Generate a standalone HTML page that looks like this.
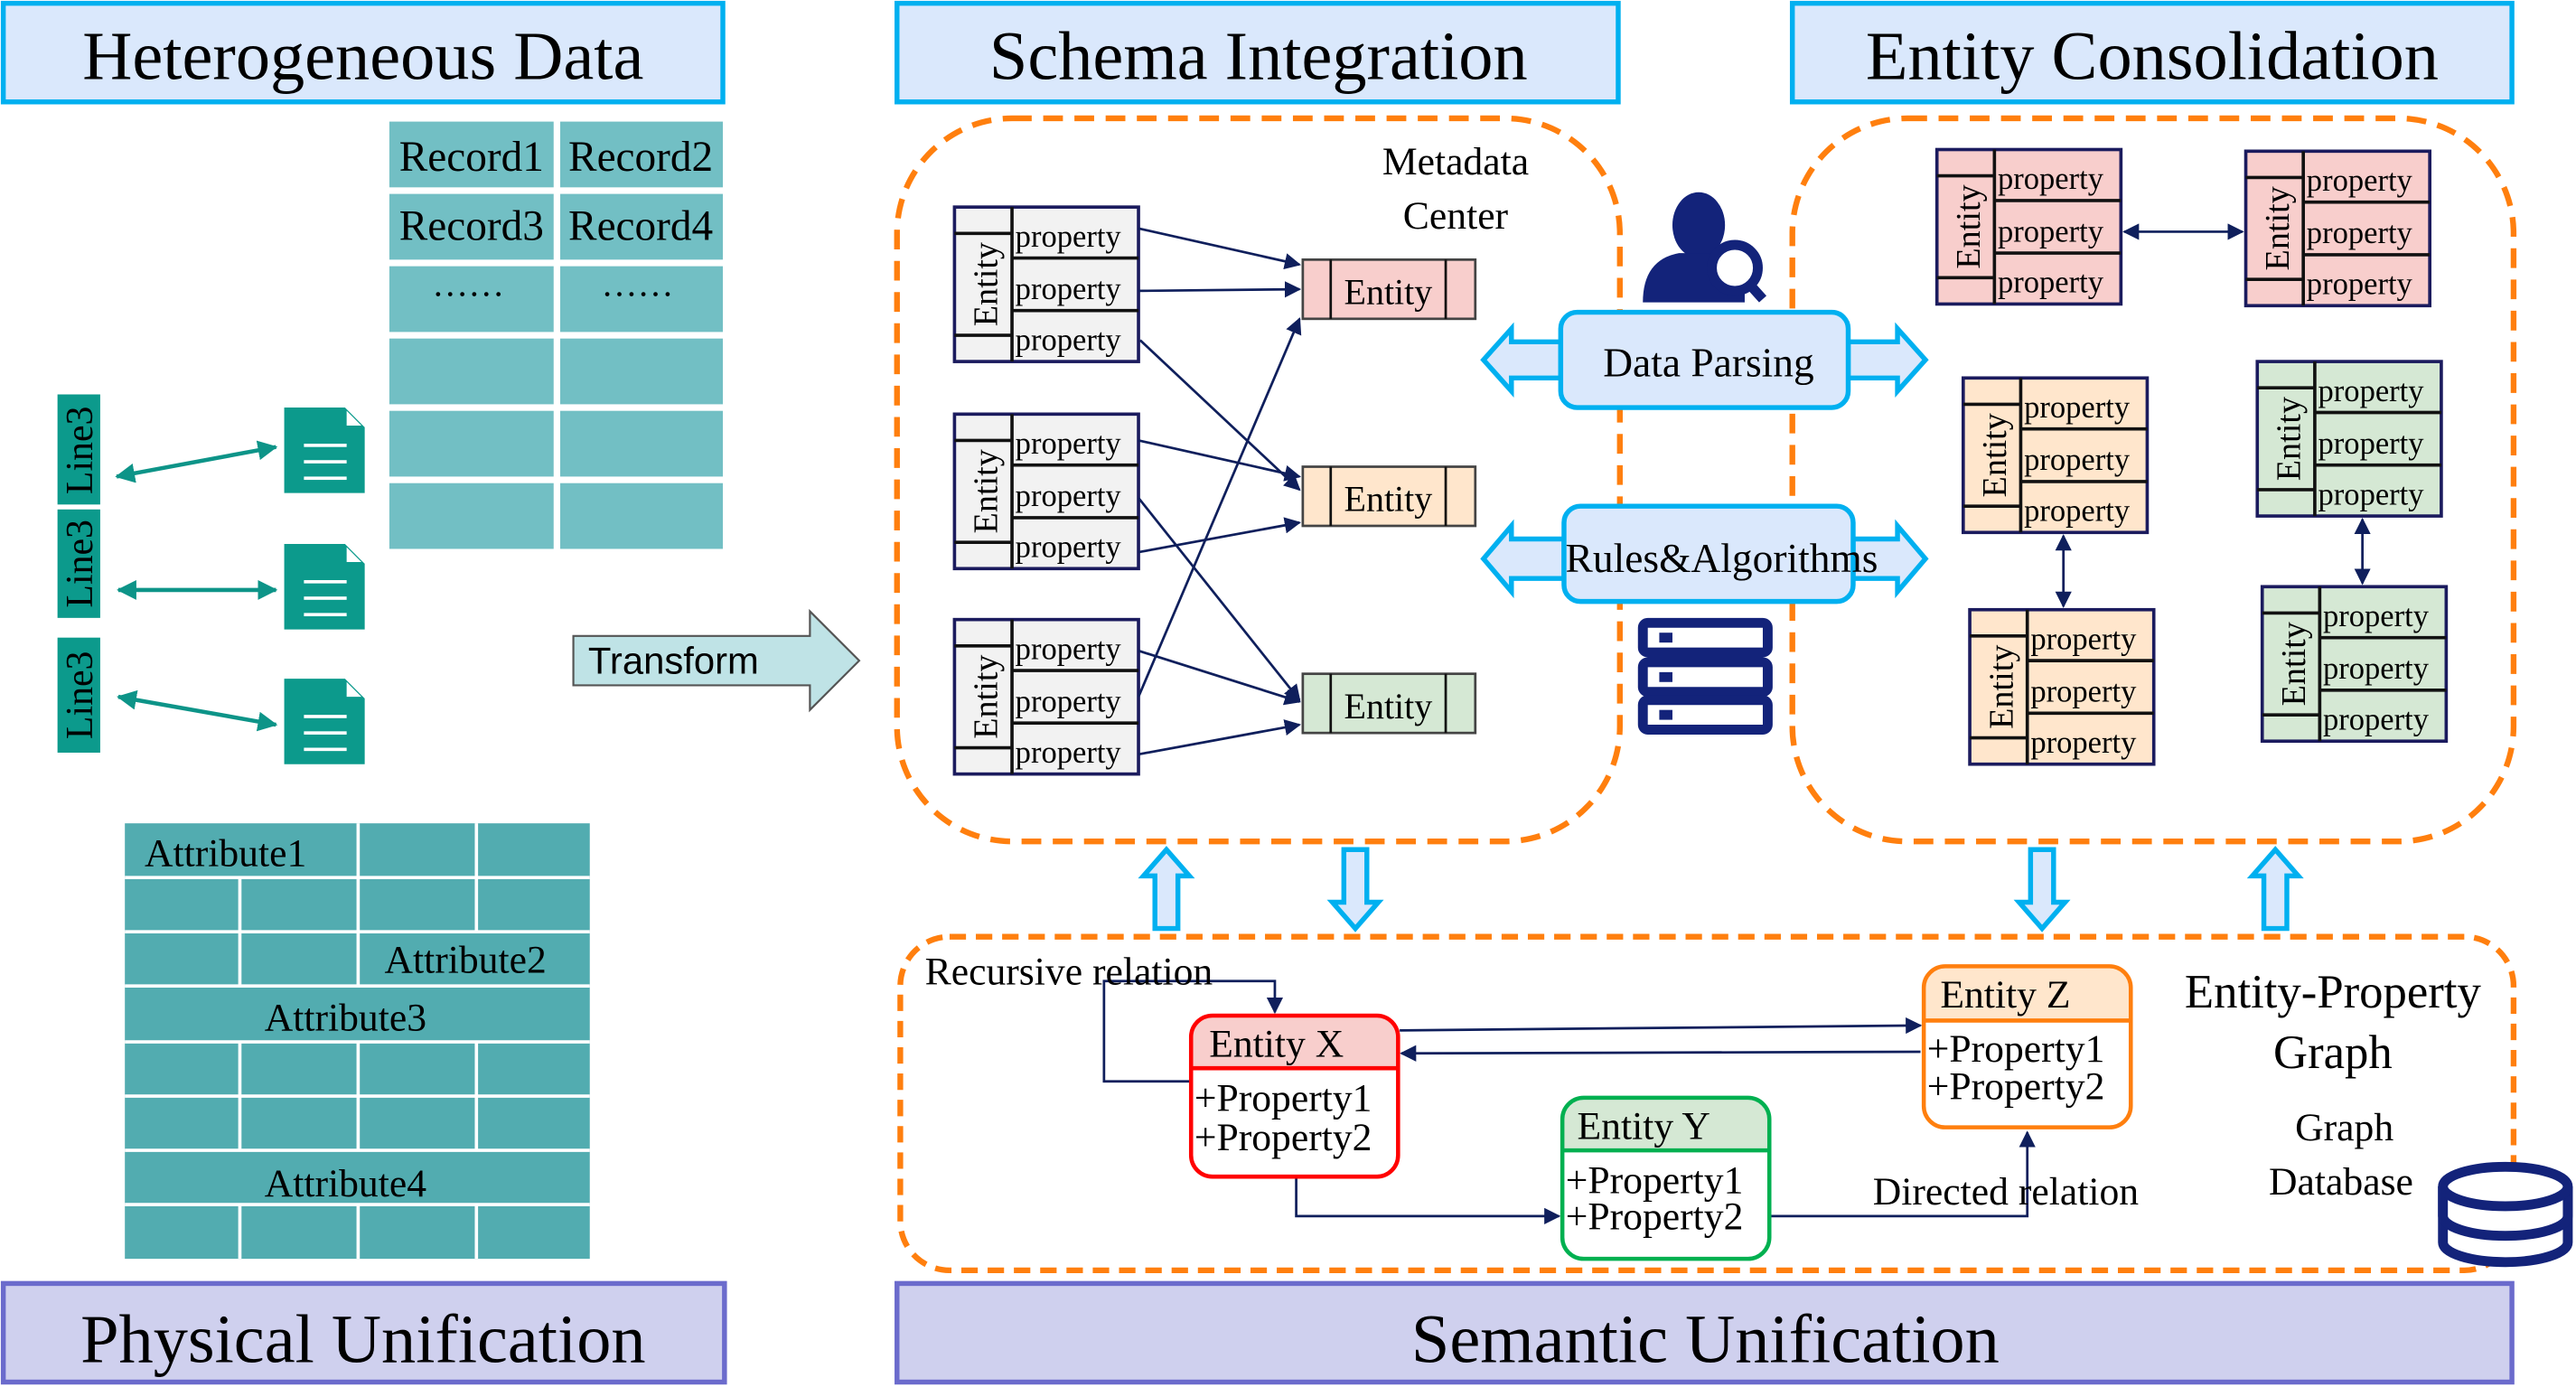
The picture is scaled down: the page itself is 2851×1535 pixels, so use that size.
<!DOCTYPE html>
<html><head><meta charset="utf-8"><style>
html,body{margin:0;padding:0;background:#fff;}
svg{display:block;}
text{font-family:"Liberation Serif",serif;fill:#000;}
</style></head><body>
<svg width="2851" height="1535" viewBox="0 0 1568 844" preserveAspectRatio="none" xmlns="http://www.w3.org/2000/svg">
<defs>
<marker id="ah" markerWidth="10" markerHeight="10" refX="9" refY="5" orient="auto" markerUnits="userSpaceOnUse"><path d="M0,0 L10,5 L0,10 z" fill="#0f1f5c"/></marker>
<marker id="ahs" markerWidth="10" markerHeight="10" refX="1" refY="5" orient="auto" markerUnits="userSpaceOnUse"><path d="M10,0 L0,5 L10,10 z" fill="#0f1f5c"/></marker>
<marker id="at" markerWidth="12" markerHeight="12" refX="11" refY="6" orient="auto" markerUnits="userSpaceOnUse"><path d="M0,0 L12,6 L0,12 z" fill="#0d9488"/></marker>
<marker id="ats" markerWidth="12" markerHeight="12" refX="1" refY="6" orient="auto" markerUnits="userSpaceOnUse"><path d="M12,0 L0,6 L12,12 z" fill="#0d9488"/></marker>
<g id="tn">
<rect x="0" y="0" width="112" height="94" fill="currentColor" stroke="#1b1b5e" stroke-width="2"/>
<line x1="35" y1="0" x2="35" y2="94" stroke="#111" stroke-width="2"/>
<line x1="35" y1="31" x2="112" y2="31" stroke="#111" stroke-width="2"/>
<line x1="35" y1="63" x2="112" y2="63" stroke="#111" stroke-width="2"/>
<line x1="0" y1="16" x2="35" y2="16" stroke="#111" stroke-width="2"/>
<line x1="0" y1="78" x2="35" y2="78" stroke="#111" stroke-width="2"/>
<text transform="translate(26,47) rotate(-90)" text-anchor="middle" font-size="21">Entity</text>
<text x="37" y="24" font-size="19">property</text>
<text x="37" y="56" font-size="19">property</text>
<text x="37" y="87" font-size="19">property</text>
</g>
<g id="en">
<rect x="0" y="0" width="105" height="36" fill="currentColor" stroke="#444" stroke-width="1.5"/>
<line x1="17" y1="0" x2="17" y2="36" stroke="#111" stroke-width="1.5"/>
<line x1="87" y1="0" x2="87" y2="36" stroke="#111" stroke-width="1.5"/>
<text x="52" y="27" text-anchor="middle" font-size="22">Entity</text>
</g>
<g id="doc">
<path d="M0,0 H37 L49,12 V52 H0 z" fill="#0c9a8c"/>
<path d="M38,2 L47,11 H38 z" fill="#fff"/>
<rect x="12" y="22" width="26" height="2" fill="#fff"/><rect x="12" y="32" width="26" height="2" fill="#fff"/><rect x="12" y="42" width="26" height="2" fill="#fff"/>
</g>
</defs>

<rect x="2" y="2" width="438" height="60" fill="#dae8fc" stroke="#00b0f0" stroke-width="3"/>
<text x="221" y="48" text-anchor="middle" font-size="42">Heterogeneous Data</text>
<rect x="546" y="2" width="439" height="60" fill="#dae8fc" stroke="#00b0f0" stroke-width="3"/>
<text x="766" y="48" text-anchor="middle" font-size="42">Schema Integration</text>
<rect x="1091" y="2" width="438" height="60" fill="#dae8fc" stroke="#00b0f0" stroke-width="3"/>
<text x="1310" y="48" text-anchor="middle" font-size="42">Entity Consolidation</text>
<rect x="2" y="781" width="439" height="60" fill="#cfd0ee" stroke="#6b6bcc" stroke-width="3"/>
<text x="221" y="829" text-anchor="middle" font-size="42">Physical Unification</text>
<rect x="546" y="781" width="983" height="60" fill="#cfd0ee" stroke="#6b6bcc" stroke-width="3"/>
<text x="1038" y="829" text-anchor="middle" font-size="42">Semantic Unification</text>

<g fill="#72bfc4">
<rect x="237" y="74" width="100" height="40"/><rect x="341" y="74" width="99" height="40"/>
<rect x="237" y="118" width="100" height="40"/><rect x="341" y="118" width="99" height="40"/>
<rect x="237" y="162" width="100" height="40"/><rect x="341" y="162" width="99" height="40"/>
<rect x="237" y="206" width="100" height="40"/><rect x="341" y="206" width="99" height="40"/>
<rect x="237" y="250" width="100" height="40"/><rect x="341" y="250" width="99" height="40"/>
<rect x="237" y="294" width="100" height="40"/><rect x="341" y="294" width="99" height="40"/>
</g>
<text x="287" y="104" text-anchor="middle" font-size="26">Record1</text>
<text x="390" y="104" text-anchor="middle" font-size="26">Record2</text>
<text x="287" y="146" text-anchor="middle" font-size="26">Record3</text>
<text x="390" y="146" text-anchor="middle" font-size="26">Record4</text>
<text x="285" y="180" text-anchor="middle" font-size="22">……</text>
<text x="388" y="180" text-anchor="middle" font-size="22">……</text>

<rect x="35" y="240" width="26" height="67" fill="#0c9a8c"/>
<rect x="35" y="310" width="26" height="66" fill="#0c9a8c"/>
<rect x="35" y="388" width="26" height="70" fill="#0c9a8c"/>
<text transform="translate(56,274) rotate(-90)" text-anchor="middle" font-size="23">Line3</text>
<text transform="translate(56,343) rotate(-90)" text-anchor="middle" font-size="23">Line3</text>
<text transform="translate(56,423) rotate(-90)" text-anchor="middle" font-size="23">Line3</text>
<line x1="71" y1="290" x2="168" y2="272" stroke="#0d9488" stroke-width="2.5" marker-start="url(#ats)" marker-end="url(#at)"/>
<line x1="72" y1="359" x2="168" y2="359" stroke="#0d9488" stroke-width="2.5" marker-start="url(#ats)" marker-end="url(#at)"/>
<line x1="72" y1="424" x2="168" y2="441" stroke="#0d9488" stroke-width="2.5" marker-start="url(#ats)" marker-end="url(#at)"/>
<use href="#doc" x="173" y="248"/>
<use href="#doc" x="173" y="331"/>
<use href="#doc" x="173" y="413"/>

<rect x="76" y="501" width="283" height="265" fill="#52acb0"/>
<g stroke="#fff" stroke-width="2">
<line x1="76" y1="534" x2="359" y2="534"/><line x1="76" y1="567" x2="359" y2="567"/><line x1="76" y1="600" x2="359" y2="600"/><line x1="76" y1="634" x2="359" y2="634"/><line x1="76" y1="667" x2="359" y2="667"/><line x1="76" y1="700" x2="359" y2="700"/><line x1="76" y1="733" x2="359" y2="733"/>
<line x1="218" y1="501" x2="218" y2="534"/><line x1="290" y1="501" x2="290" y2="534"/>
<line x1="146" y1="534" x2="146" y2="567"/><line x1="218" y1="534" x2="218" y2="567"/><line x1="290" y1="534" x2="290" y2="567"/>
<line x1="146" y1="567" x2="146" y2="600"/><line x1="218" y1="567" x2="218" y2="600"/>
<line x1="146" y1="634" x2="146" y2="667"/><line x1="218" y1="634" x2="218" y2="667"/><line x1="290" y1="634" x2="290" y2="667"/>
<line x1="146" y1="667" x2="146" y2="700"/><line x1="218" y1="667" x2="218" y2="700"/><line x1="290" y1="667" x2="290" y2="700"/>
<line x1="146" y1="733" x2="146" y2="766"/><line x1="218" y1="733" x2="218" y2="766"/><line x1="290" y1="733" x2="290" y2="766"/>
</g>
<text x="88" y="527" font-size="24">Attribute1</text>
<text x="234" y="592" font-size="24">Attribute2</text>
<text x="161" y="627" font-size="24">Attribute3</text>
<text x="161" y="728" font-size="24">Attribute4</text>

<path d="M349,387 H493 V372 L523,402 L493,432 V417 H349 z" fill="#bfe3e6" stroke="#555" stroke-width="1.2"/>
<text x="358" y="410" style="font-family:'Liberation Sans',sans-serif" font-size="23">Transform</text>

<rect x="546" y="72" width="440" height="440" rx="70" fill="none" stroke="#ff7f0e" stroke-width="3.5" stroke-dasharray="12,7"/>
<rect x="1091" y="72" width="439" height="440" rx="70" fill="none" stroke="#ff7f0e" stroke-width="3.5" stroke-dasharray="12,7"/>
<rect x="548" y="570" width="982" height="203" rx="30" fill="none" stroke="#ff7f0e" stroke-width="3.5" stroke-dasharray="10,6"/>

<text x="886" y="106" text-anchor="middle" font-size="24">Metadata</text>
<text x="886" y="139" text-anchor="middle" font-size="24">Center</text>

<use href="#tn" x="581" y="126" color="#f2f2f2"/>
<use href="#tn" x="581" y="252" color="#f2f2f2"/>
<use href="#tn" x="581" y="377" color="#f2f2f2"/>
<use href="#en" x="793" y="158" color="#f8cecc"/>
<use href="#en" x="793" y="284" color="#ffe6cc"/>
<use href="#en" x="793" y="410" color="#d5e8d4"/>
<g stroke="#0f1f5c" stroke-width="1.5" fill="none">
<line x1="693" y1="139" x2="791" y2="161" marker-end="url(#ah)"/>
<line x1="693" y1="177" x2="791" y2="176" marker-end="url(#ah)"/>
<line x1="694" y1="207" x2="791" y2="298" marker-end="url(#ah)"/>
<line x1="693" y1="268" x2="791" y2="290" marker-end="url(#ah)"/>
<line x1="693" y1="303" x2="791" y2="426" marker-end="url(#ah)"/>
<line x1="693" y1="336" x2="791" y2="318" marker-end="url(#ah)"/>
<line x1="693" y1="396" x2="791" y2="427" marker-end="url(#ah)"/>
<line x1="693" y1="424" x2="791" y2="194" marker-end="url(#ah)"/>
<line x1="693" y1="459" x2="791" y2="441" marker-end="url(#ah)"/>
</g>

<g fill="#13237a">
<ellipse cx="1034" cy="137" rx="16" ry="20"/>
<path d="M1000,184 Q1000,158 1022,154 L1046,154 Q1060,158 1062,170 L1062,184 z"/>
<circle cx="1056" cy="163" r="14" fill="#fff" stroke="#13237a" stroke-width="6"/>
<line x1="1064" y1="172" x2="1073" y2="182" stroke="#13237a" stroke-width="6"/>
</g>
<g fill="none" stroke="#13237a" stroke-width="6">
<rect x="1000" y="379" width="76" height="18" rx="3"/>
<rect x="1000" y="403" width="76" height="18" rx="3"/>
<rect x="1000" y="426" width="76" height="18" rx="3"/>
</g>
<g fill="#13237a"><rect x="1010" y="385" width="8" height="6"/><rect x="1010" y="409" width="8" height="6"/><rect x="1010" y="432" width="8" height="6"/></g>

<g fill="#dae8fc" stroke="#00b0f0" stroke-width="3">
<path d="M950,208 H920 V200 L903,219 L920,238 V230 H950 z"/>
<path d="M1125,208 H1155 V200 L1172,219 L1155,238 V230 H1125 z"/>
<path d="M952,328 H920 V320 L903,340 L920,360 V352 H952 z"/>
<path d="M1128,328 H1155 V320 L1172,340 L1155,360 V352 H1128 z"/>
<rect x="950" y="190" width="175" height="58" rx="10"/>
<rect x="952" y="308" width="176" height="58" rx="10"/>
</g>
<text x="1040" y="229" text-anchor="middle" font-size="25">Data Parsing</text>
<text x="1048" y="348" text-anchor="middle" font-size="25">Rules&amp;Algorithms</text>

<use href="#tn" x="1179" y="91" color="#f8cecc"/>
<use href="#tn" x="1367" y="92" color="#f8cecc"/>
<use href="#tn" x="1195" y="230" color="#ffe6cc"/>
<use href="#tn" x="1374" y="220" color="#d5e8d4"/>
<use href="#tn" x="1199" y="371" color="#ffe6cc"/>
<use href="#tn" x="1377" y="357" color="#d5e8d4"/>
<g stroke="#0f1f5c" stroke-width="1.5">
<line x1="1293" y1="141" x2="1365" y2="141" marker-start="url(#ahs)" marker-end="url(#ah)"/>
<line x1="1256" y1="326" x2="1256" y2="369" marker-start="url(#ahs)" marker-end="url(#ah)"/>
<line x1="1438" y1="316" x2="1438" y2="355" marker-start="url(#ahs)" marker-end="url(#ah)"/>
</g>

<g fill="#dae8fc" stroke="#00b0f0" stroke-width="3">
<path d="M703,565 V533 H696 L710,517 L724,533 H717 V565 z"/>
<path d="M818,517 V549 H811 L825,565 L839,549 H832 V517 z"/>
<path d="M1236,517 V549 H1229 L1243,565 L1257,549 H1250 V517 z"/>
<path d="M1378,565 V533 H1371 L1385,517 L1399,533 H1392 V565 z"/>
</g>

<g stroke="#0f1f5c" stroke-width="1.5" fill="none">
<polyline points="724,658 672,658 672,597 776,597 776,616" marker-end="url(#ah)"/>
<line x1="852" y1="627" x2="1169" y2="624" marker-end="url(#ah)"/>
<line x1="1169" y1="640" x2="853" y2="641" marker-end="url(#ah)"/>
<polyline points="789,716 789,740 949,740" marker-end="url(#ah)"/>
<polyline points="1078,740 1234,740 1234,689" marker-end="url(#ah)"/>
</g>
<text x="563" y="599" font-size="24">Recursive relation</text>
<text x="1140" y="733" font-size="24">Directed relation</text>

<path d="M725,650 V630 Q725,618 737,618 H839 Q851,618 851,630 V650 z" fill="#f8cecc"/>
<rect x="725" y="618" width="126" height="98" rx="13" fill="none" stroke="#ff0000" stroke-width="2.5"/>
<line x1="725" y1="650" x2="851" y2="650" stroke="#ff0000" stroke-width="2.5"/>
<text x="736" y="643" font-size="24">Entity X</text>
<text x="727" y="676" font-size="24">+Property1</text>
<text x="727" y="700" font-size="24">+Property2</text>
<path d="M951,700 V680 Q951,668 963,668 H1065 Q1077,668 1077,680 V700 z" fill="#d5e8d4"/>
<rect x="951" y="668" width="126" height="98" rx="13" fill="none" stroke="#00b050" stroke-width="2.5"/>
<line x1="951" y1="700" x2="1077" y2="700" stroke="#00b050" stroke-width="2.5"/>
<text x="960" y="693" font-size="24">Entity Y</text>
<text x="953" y="726" font-size="24">+Property1</text>
<text x="953" y="748" font-size="24">+Property2</text>
<path d="M1171,621 V600 Q1171,588 1183,588 H1285 Q1297,588 1297,600 V621 z" fill="#ffe6cc"/>
<rect x="1171" y="588" width="126" height="98" rx="13" fill="none" stroke="#ff7f0e" stroke-width="2.5"/>
<line x1="1171" y1="621" x2="1297" y2="621" stroke="#ff7f0e" stroke-width="2.5"/>
<text x="1181" y="613" font-size="24">Entity Z</text>
<text x="1173" y="646" font-size="24">+Property1</text>
<text x="1173" y="669" font-size="24">+Property2</text>

<text x="1420" y="613" text-anchor="middle" font-size="29">Entity-Property</text>
<text x="1420" y="650" text-anchor="middle" font-size="29">Graph</text>
<text x="1427" y="694" text-anchor="middle" font-size="24">Graph</text>
<text x="1425" y="727" text-anchor="middle" font-size="24">Database</text>

<g fill="#fff" stroke="#13237a" stroke-width="6">
<path d="M1487,722 V756 A38,12 0 0 0 1563,756 V722"/>
<path d="M1487,722 V740 A38,12 0 0 0 1563,740 V722"/>
<ellipse cx="1525" cy="722" rx="38" ry="12"/>
</g>
</svg>
</body></html>
